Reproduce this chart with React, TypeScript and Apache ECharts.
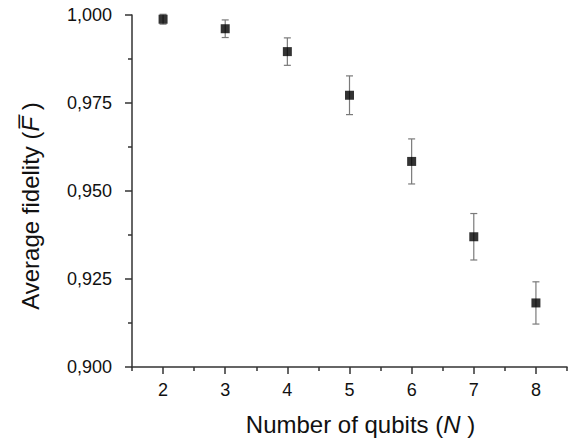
import React, { useEffect, useRef } from "react";
import * as echarts from "echarts";

const qubits = [2, 3, 4, 5, 6, 7, 8];
const fidelity = [0.9988, 0.9961, 0.9896, 0.9772, 0.9584, 0.937, 0.9182];
const errors = [0.0014, 0.0025, 0.0039, 0.0055, 0.0064, 0.0066, 0.006];
const xLabels = [2, 3, 4, 5, 6, 7, 8];

const FONT = "'Liberation Sans', Arial, sans-serif";

export default function App() {
  const ref = useRef<HTMLDivElement>(null);
  useEffect(() => {
    if (!ref.current) return;
    const chart = echarts.init(ref.current, undefined, { renderer: "svg" });
    const points = qubits.map((q, i) => [q, fidelity[i]]);
    const bars = qubits.map((q, i) => [q, fidelity[i] - errors[i], fidelity[i] + errors[i]]);
    const axisColor = "#333";
    chart.setOption({
      animation: false,
      backgroundColor: "#fff",
      textStyle: { fontFamily: FONT },
      grid: { left: 132, right: 7, top: 15, bottom: 72, containLabel: false },
      xAxis: {
        type: "value",
        min: 1.5,
        max: 8.5,
        interval: 1,
        name: "Number of qubits ({i|N} )",
        nameLocation: "middle",
        nameGap: 45,
        nameTextStyle: {
          fontSize: 24,
          color: "#111",
          fontFamily: FONT,
          padding: [0, 0, 0, 22],
          rich: { i: { fontStyle: "italic", fontSize: 24, color: "#111", fontFamily: FONT } },
        },
        axisLine: { show: true, onZero: false, lineStyle: { color: axisColor, width: 1.5 } },
        axisTick: { show: true, inside: false, length: 4, lineStyle: { color: axisColor, width: 1.5 } },
        minorTick: { show: true, splitNumber: 2, length: 7, lineStyle: { color: axisColor, width: 1.5 } },
        axisLabel: {
          customValues: xLabels,
          fontSize: 18,
          color: "#111",
          margin: 14,
          fontFamily: FONT,
        },
        splitLine: { show: false },
        minorSplitLine: { show: false },
      },
      yAxis: {
        type: "value",
        min: 0.9,
        max: 1.0,
        interval: 0.025,
        name: "Average fidelity ({f|F\u0305} )",
        nameLocation: "middle",
        nameGap: 90,
        nameTextStyle: {
          fontSize: 24,
          color: "#111",
          fontFamily: FONT,
          padding: [0, 30, 0, 0],
          rich: { f: { fontStyle: "italic", fontSize: 24, color: "#111", fontFamily: FONT } },
        },
        axisLine: { show: true, onZero: false, lineStyle: { color: axisColor, width: 1.5 } },
        axisTick: { show: true, inside: false, length: 7, lineStyle: { color: axisColor, width: 1.5 } },
        minorTick: { show: true, splitNumber: 2, length: 4, lineStyle: { color: axisColor, width: 1.5 } },
        axisLabel: {
          fontSize: 18,
          color: "#111",
          margin: 20,
          fontFamily: FONT,
          formatter: (v: number) => v.toFixed(3).replace(".", ","),
        },
        splitLine: { show: false },
        minorSplitLine: { show: false },
      },
      series: [
        {
          type: "custom",
          data: bars,
          z: 1,
          renderItem: (params: any, api: any) => {
            const x = api.value(0);
            const lo = api.coord([x, api.value(1)]);
            const hi = api.coord([x, api.value(2)]);
            const w = 3.5;
            const st = { stroke: "#7a7a7a", lineWidth: 1.2 };
            return {
              type: "group",
              children: [
                { type: "line", shape: { x1: lo[0], y1: lo[1], x2: hi[0], y2: hi[1] }, style: st },
                { type: "line", shape: { x1: lo[0] - w, y1: lo[1], x2: lo[0] + w, y2: lo[1] }, style: st },
                { type: "line", shape: { x1: hi[0] - w, y1: hi[1], x2: hi[0] + w, y2: hi[1] }, style: st },
              ],
            };
          },
        },
        {
          type: "scatter",
          data: points,
          z: 2,
          symbol: "rect",
          symbolSize: 9,
          itemStyle: { color: "#000" },
        },
      ],
    });
    return () => chart.dispose();
  }, []);
  return (
    <div
      ref={ref}
      style={{ position: "fixed", left: 0, top: 0, width: 574, height: 441, background: "#fff" }}
    />
  );
}
